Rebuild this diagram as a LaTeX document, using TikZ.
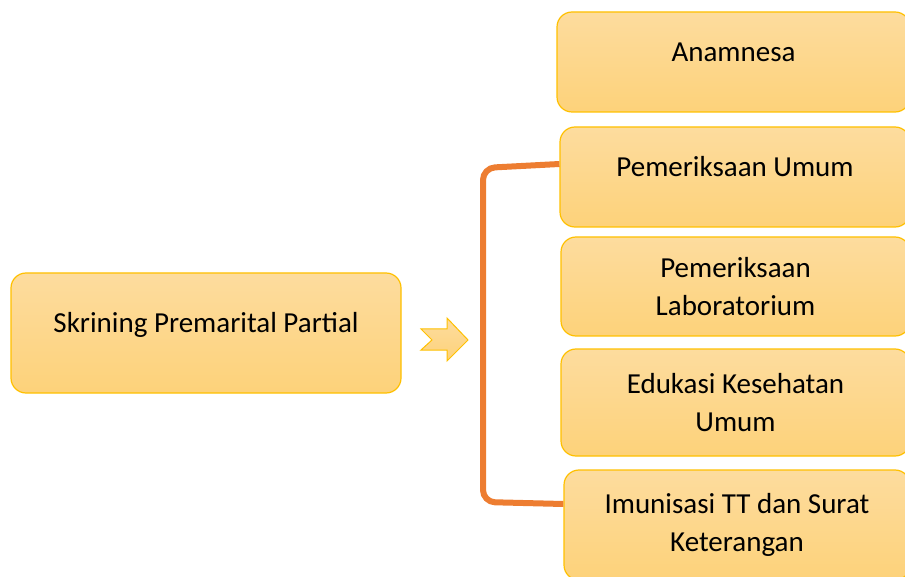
\documentclass[tikz,border=0pt]{standalone}
\usepackage{fontspec}
\setmainfont{Carlito}
\usepackage{tikz}
\usetikzlibrary{positioning}
\definecolor{boxtop}{HTML}{FDDC9E}
\definecolor{boxbot}{HTML}{FDD27A}
\definecolor{boxline}{HTML}{FFC000}
\definecolor{brack}{HTML}{ED7D31}

\begin{document}
\begin{tikzpicture}[x=1pt,y=-1pt,font=\fontsize{29}{38}\selectfont]
\tikzstyle{box}=[rectangle,rounded corners=15pt,draw=boxline,line width=1.2pt,top color=boxtop,bottom color=boxbot,align=center,inner sep=0pt]
\tikzstyle{one}=[text height=20pt,text depth=20pt]
\useasboundingbox (0,0) rectangle (905,577);
\clip (0,0) rectangle (905,577);
\node[box,one,minimum width=390pt,minimum height=120pt] (skr) at (206,333) {Skrining Premarital Partial};
\node[box,one,minimum width=353pt,minimum height=100pt] (ana) at (733.5,62) {Anamnesa};
\node[box,one,minimum width=350pt,minimum height=100pt] (pu) at (735,177) {Pemeriksaan Umum};
\node[box,minimum width=349pt,minimum height=99pt] (pl) at (735.5,286.5) {Pemeriksaan\\Laboratorium};
\node[box,minimum width=349pt,minimum height=107pt] (ek) at (735.5,402.5) {Edukasi Kesehatan\\Umum};
\node[box,minimum width=346pt,minimum height=110pt] (im) at (737,525) {Imunisasi TT dan Surat\\Keterangan};
% chevron
\draw[boxline,line width=1pt,top color=boxtop,bottom color=boxbot] (421,329) -- (447,329) -- (447,318) -- (468,340) -- (447,361) -- (447,350) -- (421,350) -- (432,340) -- cycle;
% bracket
\draw[brack,line width=6pt,rounded corners=12pt] ([yshift=13pt]pu.west) -- (483,168) -- (483,502) -- ([yshift=21pt]im.west);
\end{tikzpicture}
\end{document}
